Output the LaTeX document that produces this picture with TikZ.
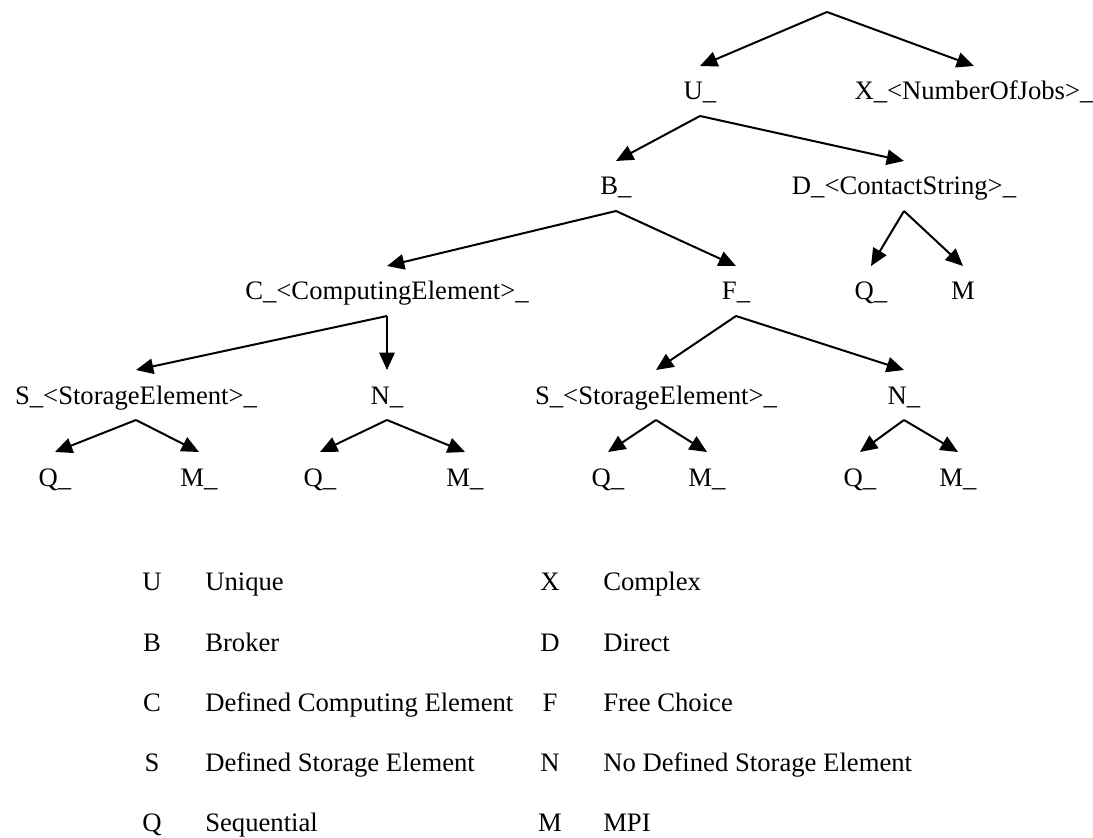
\documentclass[tikz,border=0pt]{standalone}
\usepackage{fontspec}
\setmainfont{Liberation Serif}
\usetikzlibrary{arrows.meta}
\begin{document}
\begin{tikzpicture}[x=0.75pt,y=-0.75pt,
  every node/.style={font=\fontsize{20}{24}\selectfont},
  tn/.style={inner sep=0pt, outer sep=0pt, anchor=base, text height=25.5pt, text depth=12pt},
  arr/.style={line width=1.5pt, -{Triangle[length=13pt,width=11.5pt]}},
  key/.style={inner sep=0pt, anchor=base},
  desc/.style={inner sep=0pt, anchor=base west}]
\useasboundingbox (0,0) rectangle (1093,838);
% tree
\coordinate (root) at (827,12);
\node[tn] (U) at (700,100) {U\_};
\node[tn] (X) at (974,100) {X\_<NumberOfJobs>\_};
\node[tn] (B) at (616,195) {B\_};
\node[tn] (D) at (904,195) {D\_<ContactString>\_};
\node[tn] (C) at (387,300) {C\_<ComputingElement>\_\hspace{8pt}};
\node[tn] (F) at (736,300) {F\_};
\node[tn] (DQ) at (871,300) {Q\_};
\node[tn] (DM) at (963,300) {M};
\node[tn] (S1) at (136,404) {S\_<StorageElement>\_};
\node[tn] (N1) at (387,404) {N\_};
\node[tn] (S2) at (656,404) {S\_<StorageElement>\_\hspace{8pt}};
\node[tn] (N2) at (904,404) {N\_};
\node[tn] (Q1) at (55,486) {Q\_};
\node[tn] (M1) at (199,486) {M\_};
\node[tn] (Q2) at (320,486) {Q\_};
\node[tn] (M2) at (465,486) {M\_};
\node[tn] (Q3) at (608,486) {Q\_};
\node[tn] (M3) at (707,486) {M\_};
\node[tn] (Q4) at (860,486) {Q\_};
\node[tn] (M4) at (958,486) {M\_};
\draw[arr] (root) -- (U.north);
\draw[arr] (root) -- (X.north);
\draw[arr] (U.south) -- (B.north);
\draw[arr] (U.south) -- (D.north);
\draw[arr] (B.south) -- (C.north);
\draw[arr] (B.south) -- (F.north);
\draw[arr] (D.south) -- (DQ.north);
\draw[arr] (D.south) -- (DM.north);
\draw[arr] (C.south) -- (S1.north);
\draw[arr] (C.south) -- (N1.north);
\draw[arr] (F.south) -- (S2.north);
\draw[arr] (F.south) -- (N2.north);
\draw[arr] (S1.south) -- (Q1.north);
\draw[arr] (S1.south) -- (M1.north);
\draw[arr] (N1.south) -- (Q2.north);
\draw[arr] (N1.south) -- (M2.north);
\draw[arr] (S2.south) -- (Q3.north);
\draw[arr] (S2.south) -- (M3.north);
\draw[arr] (N2.south) -- (Q4.north);
\draw[arr] (N2.south) -- (M4.north);
% legend
\node[key] (kU) at (152,590) {U};
\node[desc] (dU) at (205,590) {Unique};
\node[key] (kB) at (152,651) {B};
\node[desc] (dB) at (205,651) {Broker};
\node[key] (kC) at (152,711) {C};
\node[desc] (dC) at (205,711) {Defined Computing Element};
\node[key] (kS) at (152,771) {S};
\node[desc] (dS) at (205,771) {Defined Storage Element};
\node[key] (kQ) at (152,831) {Q};
\node[desc] (dQ) at (205,831) {Sequential};
\node[key] (kX) at (550,590) {X};
\node[desc] (dX) at (603,590) {Complex};
\node[key] (kD) at (550,651) {D};
\node[desc] (dD) at (603,651) {Direct};
\node[key] (kF) at (550,711) {F};
\node[desc] (dF) at (603,711) {Free Choice};
\node[key] (kN) at (550,771) {N};
\node[desc] (dN) at (603,771) {No Defined Storage Element};
\node[key] (kM) at (550,831) {M};
\node[desc] (dM) at (603,831) {MPI};
\end{tikzpicture}
\end{document}
